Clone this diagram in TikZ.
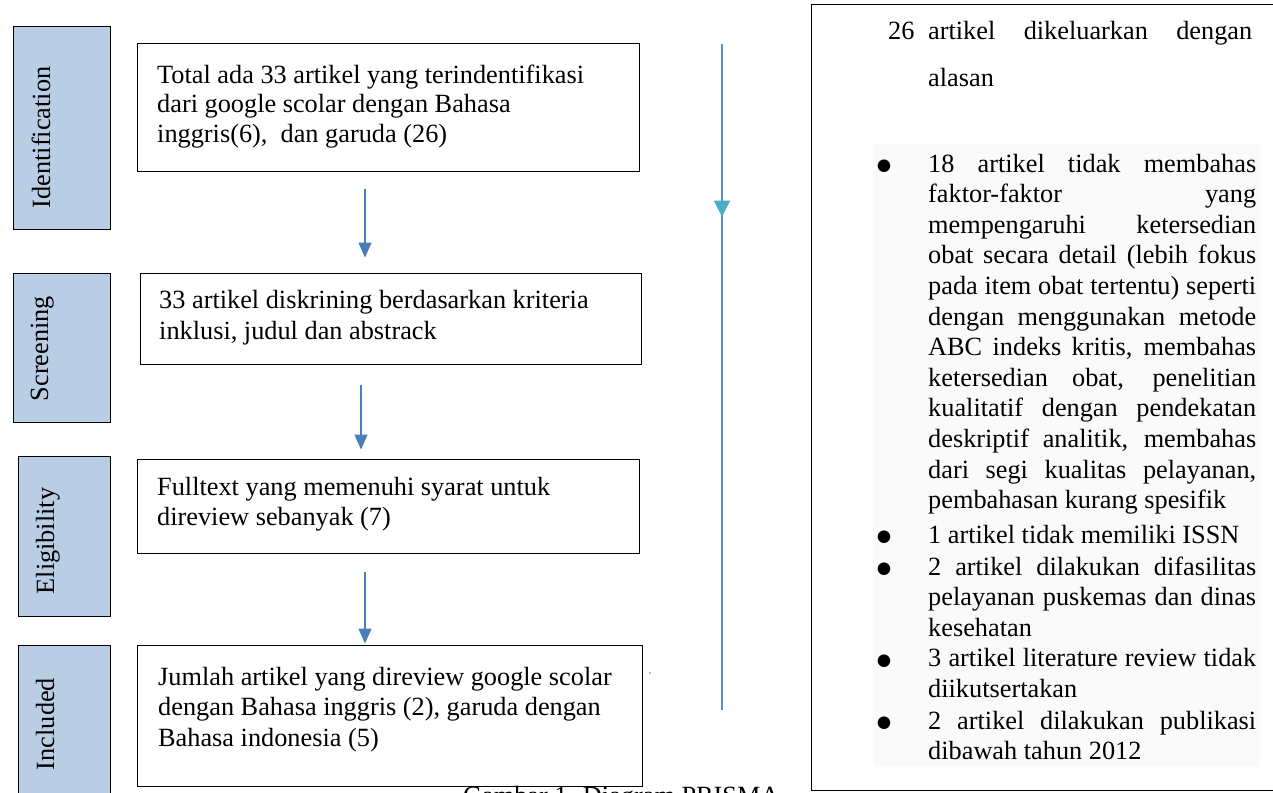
\documentclass[tikz,border=0pt]{standalone}
\usepackage{fontspec}
\setmainfont{Liberation Serif}
\newfontfamily\symfont{DejaVu Sans}
\usetikzlibrary{arrows.meta,calc,decorations.markings}
\definecolor{lblfill}{HTML}{B9CDE5}
\definecolor{arrblue}{HTML}{4A7EBB}
\definecolor{linblue}{HTML}{5B8FD0}
\definecolor{tipteal}{HTML}{4BACC6}
\newcommand\jline[1]{\hbox to\hsize{#1}}
\newcommand\nline[1]{\hbox{#1}}
\newcommand\bul{\llap{\raisebox{1.5pt}{\symfont\fontsize{16.5}{16.5}\selectfont ●}\hskip 37pt}}
\begin{document}
\begin{tikzpicture}[x=1pt,y=-1pt,
  lbl/.style={draw=black, line width=1pt, fill=lblfill, inner sep=0pt},
  box/.style={draw=black, line width=1pt, inner sep=0pt},
  lbltext/.style={rotate=90, anchor=base, inner sep=0pt, font=\fontsize{26.3}{30}\selectfont},
  bodytext/.style={anchor=base west, inner sep=0pt, font=\fontsize{26.3}{30}\selectfont},
  flow/.style={draw=arrblue, line width=1.5pt, -{Triangle[length=15pt,width=13pt]}},
]
\useasboundingbox (0,0) rectangle (1273,792);
\clip (0,0) rectangle (1273,792);

% stage labels
\node[lbl, minimum width=97, minimum height=202] (L1) at (61.5,128) {};
\node[lbl, minimum width=97, minimum height=149] (L2) at (61.5,347.5) {};
\node[lbl, minimum width=92, minimum height=160] (L3) at (64,536) {};
\node[lbl, minimum width=92, minimum height=155] (L4) at (64,722.5) {};
\node[lbltext] (T1) at (50,137.5) {Identification};
\node[lbltext] (T2) at (48,348.5) {Screening};
\node[lbltext] (T3) at (54,541) {Eligibility};
\node[lbltext] (T4) at (54,724) {Included};

% flow boxes
\node[box, minimum width=502, minimum height=127] (B1) at (388,107.5) {};
\node[box, minimum width=501, minimum height=91] (B2) at (390.5,318.5) {};
\node[box, minimum width=502, minimum height=94] (B3) at (388,506) {};
\node[box, minimum width=505, minimum height=141] (B4) at (389.5,715.5) {};

\node[bodytext] (X1) at (157,83) {\vtop{\baselineskip=29.5pt
\nline{Total ada 33 artikel yang terindentifikasi}
\nline{dari google scolar dengan Bahasa}
\nline{inggris(6),\ \ dan garuda (26)}}};
\node[bodytext] (X2) at (159,308) {\vtop{\baselineskip=31pt
\nline{33 artikel diskrining berdasarkan kriteria}
\nline{inklusi, judul dan abstrack}}};
\node[bodytext] (X3) at (157,495) {\vtop{\baselineskip=30pt
\nline{Fulltext yang memenuhi syarat untuk}
\nline{direview sebanyak (7)}}};
\node[bodytext] (X4) at (158,685) {\vtop{\baselineskip=30.5pt
\nline{Jumlah artikel yang direview google scolar}
\nline{dengan Bahasa inggris (2), garuda dengan}
\nline{Bahasa indonesia (5)}}};

\draw[flow] ($(B1.south)+(-23,17)$) -- ($(B2.north)+(-25.5,-15)$);
\draw[flow] ($(B2.south)+(-29.5,20)$) -- ($(B3.north)+(-27,-9)$);
\draw[flow] ($(B3.south)+(-23,18)$) -- ($(B4.north)+(-24.5,-1)$);

% vertical exclusion line
\coordinate (vtop) at (722,44);
\coordinate (vbot) at (722,710);
\draw[linblue, line width=1.5pt,
  postaction={decorate, decoration={markings,
    mark=at position 0.2593 with {\arrow[tipteal]{Triangle[length=16pt,width=16pt]}}}}]
  (vtop) -- (vbot);
\fill[arrblue] (650,673) circle (0.9);

% exclusion box
\node[box, minimum width=479, minimum height=785] (R) at (1050.5,397.5) {};
\node[fill=black!2, inner sep=0pt, minimum width=387, minimum height=623] (F) at (1066.5,455.5) {};
\node[bodytext] (H) at (888,40) {\vtop{\hsize=364pt \baselineskip=47pt
\jline{\makebox[40pt][l]{26}artikel dikeluarkan dengan}
\moveright 40pt\nline{alasan}}};
\node[bodytext] (LST) at (928,172) {\vtop{\hsize=328pt \baselineskip=30.6pt
\jline{\bul 18 artikel tidak membahas}
\jline{faktor-faktor yang}
\jline{mempengaruhi ketersedian}
\jline{obat secara detail (lebih fokus}
\jline{pada item obat tertentu) seperti}
\jline{dengan menggunakan metode}
\jline{ABC indeks kritis, membahas}
\jline{ketersedian obat, penelitian}
\jline{kualitatif dengan pendekatan}
\jline{deskriptif analitik, membahas}
\jline{dari segi kualitas pelayanan,}
\nline{pembahasan kurang spesifik}
\vskip 3.8pt
\nline{\bul 1 artikel tidak memiliki ISSN}
\vskip 1.4pt
\jline{\bul 2 artikel dilakukan difasilitas}
\jline{pelayanan puskemas dan dinas}
\nline{kesehatan}
\jline{\bul 3 artikel literature review tidak}
\nline{diikutsertakan}
\vskip 1pt
\jline{\bul 2 artikel dilakukan publikasi}
\nline{dibawah tahun 2012}}};

% caption (cut off at the bottom edge, as in the source)
\node[bodytext] (cap) at (463,804.5) {Gambar 1. Diagram PRISMA};
\end{tikzpicture}
\end{document}
